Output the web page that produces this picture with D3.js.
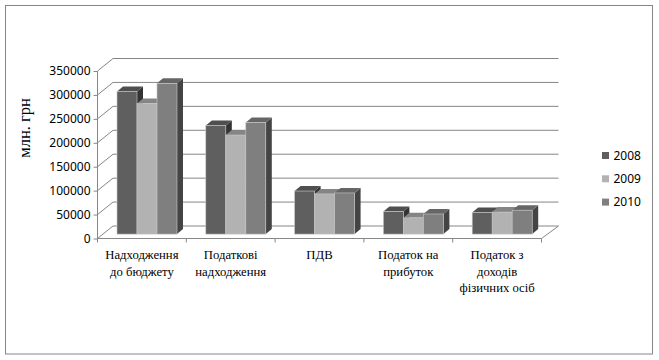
<!DOCTYPE html>
<html>
<head>
<meta charset="utf-8">
<script src="https://cdnjs.cloudflare.com/ajax/libs/d3/7.8.5/d3.min.js"></script>
<style>
html, body { margin: 0; padding: 0; background: #fff; }
svg { display: block; }
</style>
</head>
<body>
<div id="root"></div>
<script>
const categories	= [
	['Надходження', 'до бюджету'],
	['Податкові', 'надходження'],
	['ПДВ'],
	['Податок на', 'прибуток'],
	['Податок з', 'доходів', 'фізичних осіб'],
];
const years		= ['2008', '2009', '2010'];
const v2008		= [298000, 227000, 90000, 47000, 45000];
const v2009		= [273000, 207000, 84000, 34000, 46000];
const v2010		= [315000, 233000, 86000, 42000, 50000];
const y_ticks	= [0, 50000, 100000, 150000, 200000, 250000, 300000, 350000];

const series	= [v2008, v2009, v2010];
const colors	= [
	{ front: '#5f5f5f', top: '#4f4f4f', side: '#333333' },
	{ front: '#b2b2b2', top: '#858585', side: '#5a5a5a' },
	{ front: '#7f7f7f', top: '#666666', side: '#444444' },
];
const line_col	= '#868686';

const width		= 659;
const height	= 360;

// wall depth and bar depth of the fake 3d
const wall_dx	= 15.5;
const wall_dy	= -12.5;
const bar_dx	= 6;
const bar_dy	= -5;
const base_up	= 4.4;

const svg	= d3.select('#root').append('svg')
	.attr('width', width)
	.attr('height', height);

svg.append('rect')
	.attr('x', 5.5)
	.attr('y', 5.5)
	.attr('width', 647)
	.attr('height', 348.5)
	.attr('fill', '#fff')
	.attr('stroke', line_col);

const x		= d3.scaleBand().domain(d3.range(categories.length)).range([97.5, 541.5]);
const x1	= d3.scaleBand().domain(d3.range(years.length)).range([19.5, 79.5]);
const y		= d3.scaleLinear().domain([0, 350000]).range([238.5, 71]);

// gridlines on the back wall, with the little diagonal down to the axis
const grid	= svg.append('g').attr('fill', 'none').attr('stroke', line_col);

grid.selectAll('.grid')
	.data(y_ticks).enter().append('path')
	.attr('class', 'grid')
	.attr('d', (o) => 'M' + x.range()[0] + ',' + y(o) + 'l' + wall_dx + ',' + wall_dy + 'H' + (x.range()[1] + wall_dx + 1.5));

grid.append('path')
	.attr('d', 'M' + x.range()[1] + ',' + y(0) + 'l' + (wall_dx + 1.5) + ',' + wall_dy);

// axes
const y_axis	= svg.append('g')
	.attr('transform', 'translate(' + x.range()[0] + ',0)')
	.call(d3.axisLeft(y).tickValues(y_ticks).tickFormat(d3.format('d')).tickSize(4).tickPadding(3));

y_axis.selectAll('path, line').attr('stroke', line_col);
y_axis.select('path').attr('d', 'M0,' + y(350000) + 'V' + y(0));
y_axis.selectAll('text')
	.attr('font-family', '"Noto Sans", sans-serif')
	.attr('font-size', '12px')
	.attr('fill', '#000');

const cat_edges	= d3.range(categories.length + 1).map((o) => x.range()[0] + o * x.step());

svg.append('path')
	.attr('fill', 'none')
	.attr('stroke', line_col)
	.attr('d', 'M' + x.range()[0] + ',' + y(0) + 'H' + x.range()[1] + cat_edges.map((o) => 'M' + o + ',' + y(0) + 'v4').join(''));

// bars: side, top and front faces
const groups	= svg.selectAll('.group')
	.data(categories).enter().append('g')
	.attr('class', 'group')
	.attr('transform', (o, i) => 'translate(' + x(i) + ',0)');

years.forEach((year, s) => {
	const bars	= groups.append('g').datum((o, i) => series[s][i]);
	const left	= x1(s);
	const right	= x1(s) + x1.bandwidth();
	const top	= (v) => y(v) - base_up;
	const base	= y(0) - base_up;

	bars.append('path')
		.attr('fill', colors[s].side)
		.attr('d', (v) => 'M' + right + ',' + top(v) + 'l' + bar_dx + ',' + bar_dy + 'V' + (base + bar_dy) + 'l' + (-bar_dx) + ',' + (-bar_dy) + 'Z');

	bars.append('path')
		.attr('fill', colors[s].top)
		.attr('d', (v) => 'M' + left + ',' + top(v) + 'l' + bar_dx + ',' + bar_dy + 'H' + (right + bar_dx) + 'l' + (-bar_dx) + ',' + (-bar_dy) + 'Z');

	bars.append('rect')
		.attr('x', left)
		.attr('y', (v) => top(v))
		.attr('width', x1.bandwidth())
		.attr('height', (v) => base - top(v))
		.attr('fill', colors[s].front)
		.attr('stroke', '#c8c8c8')
		.attr('stroke-width', 0.6);
});

// category labels
const labels	= svg.selectAll('.cat')
	.data(categories).enter().append('text')
	.attr('class', 'cat')
	.attr('text-anchor', 'middle')
	.attr('font-family', '"Liberation Serif", serif')
	.attr('font-size', '12.7px')
	.attr('fill', '#000');

labels.selectAll('tspan')
	.data((o, i) => o.map((line, j) => ({ line: line, j: j, i: i })))
	.enter().append('tspan')
	.attr('x', (o) => x(o.i) + x.bandwidth() / 2)
	.attr('y', (o) => 259 + o.j * 16.7)
	.text((o) => o.line);

// axis title
svg.append('text')
	.attr('transform', 'translate(30,128) rotate(-90)')
	.attr('text-anchor', 'middle')
	.attr('font-family', '"Liberation Serif", serif')
	.attr('font-size', '16.5px')
	.attr('fill', '#000')
	.text('млн. грн');

// legend
const legend	= svg.selectAll('.legend')
	.data(years).enter().append('g')
	.attr('class', 'legend')
	.attr('transform', (o, i) => 'translate(602,' + (155.5 + i * 23.3) + ')');

legend.append('rect')
	.attr('y', -3.5)
	.attr('width', 7)
	.attr('height', 7)
	.attr('fill', (o, i) => colors[i].front);

legend.append('text')
	.attr('x', 11.5)
	.attr('dy', '.36em')
	.attr('font-family', '"Noto Sans", sans-serif')
	.attr('font-size', '12px')
	.attr('fill', '#000')
	.text((o) => o);
</script>
</body>
</html>
